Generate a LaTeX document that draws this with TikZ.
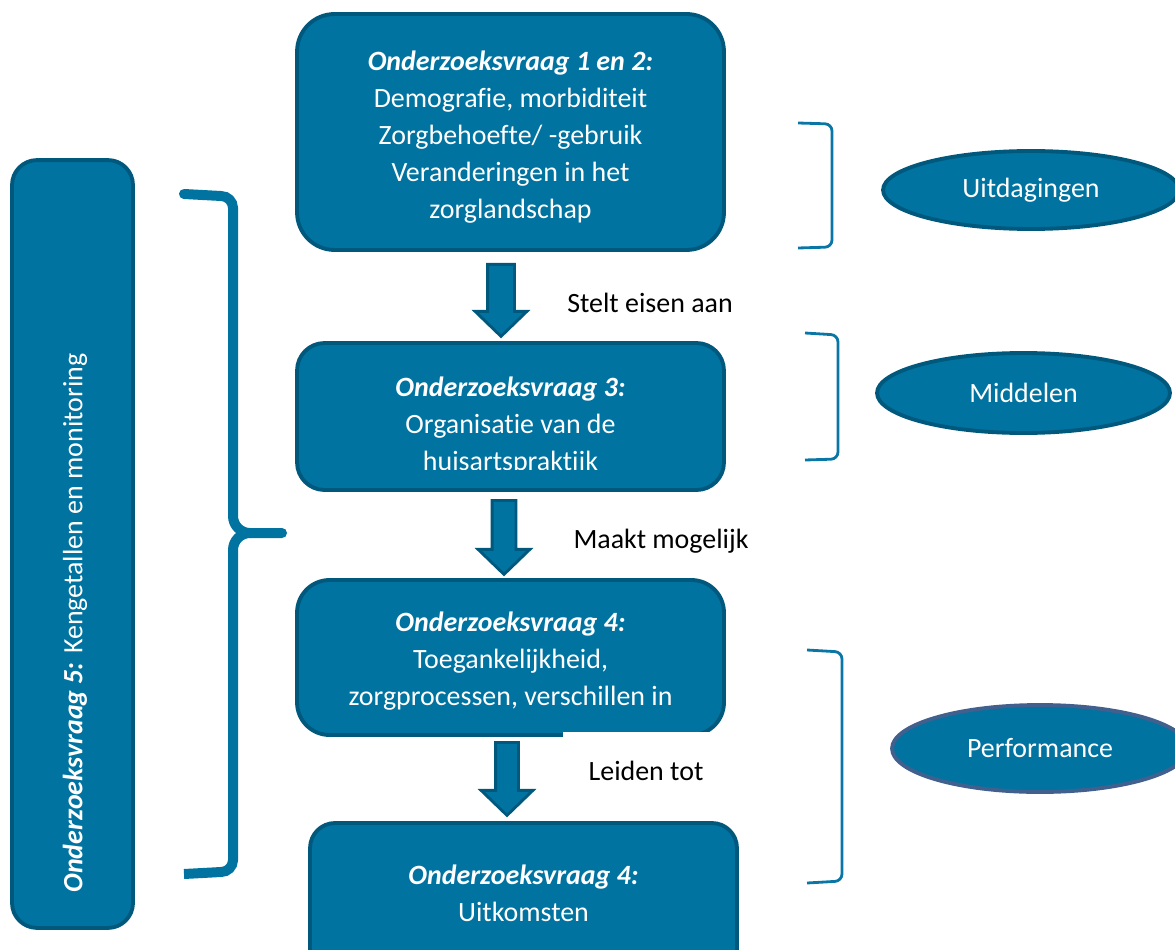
\documentclass[tikz,border=0pt]{standalone}
\usepackage{fontspec}
\setmainfont{Carlito}[Ligatures=NoCommon]
\usetikzlibrary{shapes.geometric,shapes.arrows}
\definecolor{vraagblauw}{HTML}{0073A0}
\definecolor{vraagrand}{HTML}{00587C}
\definecolor{perfrand}{HTML}{41608E}
\definecolor{haakblauw}{HTML}{0A76A6}
\newcommand{\vraagkop}[1]{\textbf{\textit{#1}}}
\begin{document}
\begin{tikzpicture}[x=0.02cm,y=-0.02cm,
  vraag/.style={draw=vraagrand,fill=vraagblauw,line width=2.2pt,minimum width=8.54cm,inner sep=0pt},
  tekst/.style={text=white,align=center,font=\fontsize{15.9}{21}\selectfont},
  pijltekst/.style={font=\fontsize{15.9}{21}\selectfont},
  pijl/.style={shape=single arrow,rotate=-90,anchor=tail,draw=vraagrand,fill=vraagblauw,line width=1.6pt,
    inner xsep=0pt,inner ysep=0.24cm,minimum height=1.44cm,single arrow head extend=0.25cm,single arrow tip angle=92},
  ovaal/.style={ellipse,draw=vraagrand,fill=vraagblauw,line width=2.2pt,inner sep=0pt,
    text=white,font=\fontsize{15.9}{21}\selectfont},
  haak/.style={draw=haakblauw,line width=1.6pt,rounded corners=4pt}]
\clip (0,0) rectangle (1175,949);
\node[vraag,rounded corners=0.5cm,minimum width=2.42cm,minimum height=15.36cm] (monitor) at (72.5,544) {};
\node[tekst,rotate=90] (monitortekst) at (75,623) {\vraagkop{Onderzoeksvraag 5:} Kengetallen en monitoring};
\draw[vraagblauw,line width=0.2cm,line cap=round] (184,194)--(221,196) to[out=0,in=90] (233,208)--(233,516)
  to[out=-90,in=180] (250,533)--(282,533);
\draw[vraagblauw,line width=0.2cm] (250,533) to[out=180,in=90] (233,550)--(233,860) to[out=-90,in=0] (221,872)--(184,874);
\node[vraag,rounded corners=0.75cm,minimum height=4.72cm] (vraagA) at (510.5,132) {};
\node[tekst] (tekstA) at (510.5,137) {\vraagkop{Onderzoeksvraag 1 en 2:}\\Demografie, morbiditeit\\Zorgbehoefte/ -gebruik\\Veranderingen in het\\zorglandschap};
\node[vraag,rounded corners=0.55cm,minimum height=2.94cm] (vraagB) at (510.5,416.5) {};
\begin{scope}
\clip (297,343) rectangle (724,469);
\node[tekst] (tekstB) at (510.5,426) {\vraagkop{Onderzoeksvraag 3:}\\Organisatie van de\\huisartspraktijk};
\end{scope}
\node[vraag,rounded corners=0.65cm,minimum height=3.1cm] (vraagC) at (510.5,657.5) {};
\node[tekst] (tekstC) at (510.5,661) {\vraagkop{Onderzoeksvraag 4:}\\Toegankelijkheid,\\zorgprocessen, verschillen in};
\fill[white] (563,731.5) rectangle (730,741);
\node[vraag,rounded corners=0.5cm,minimum height=3.54cm] (vraagD) at (523.5,911.5) {};
\node[tekst] (tekstD) at (523.5,893) {\vraagkop{Onderzoeksvraag 4:}\\Uitkomsten};
\node[pijl] (pijlA) at (501,263) {};
\node[pijl,minimum height=1.48cm,inner ysep=0.21cm,single arrow head extend=0.28cm] (pijlB) at (504,499) {};
\node[pijl,minimum height=1.46cm,inner ysep=0.2cm,single arrow head extend=0.29cm] (pijlC) at (507,741) {};
\node[pijltekst] (eisen) at (650,303) {Stelt eisen aan};
\node[pijltekst] (mogelijk) at (661,541) {Maakt mogelijk};
\node[pijltekst] (leiden) at (646,771) {Leiden tot};
\draw[haak] (798,123)--(832,124)--(832,247)--(798,248);
\draw[haak] (805,333)--(838,335)--(838,459)--(805,460);
\draw[haak] (807,650)--(842,652)--(842,881)--(807,883);
\node[ovaal,minimum width=5.92cm,minimum height=1.56cm] (uitdaging) at (1031,190) {Uitdagingen};
\node[ovaal,minimum width=5.86cm,minimum height=1.6cm] (middel) at (1023.5,393) {Middelen};
\node[ovaal,draw=perfrand,minimum width=5.92cm,minimum height=1.74cm] (perform) at (1040,748.5) {Performance};
\end{tikzpicture}
\end{document}
